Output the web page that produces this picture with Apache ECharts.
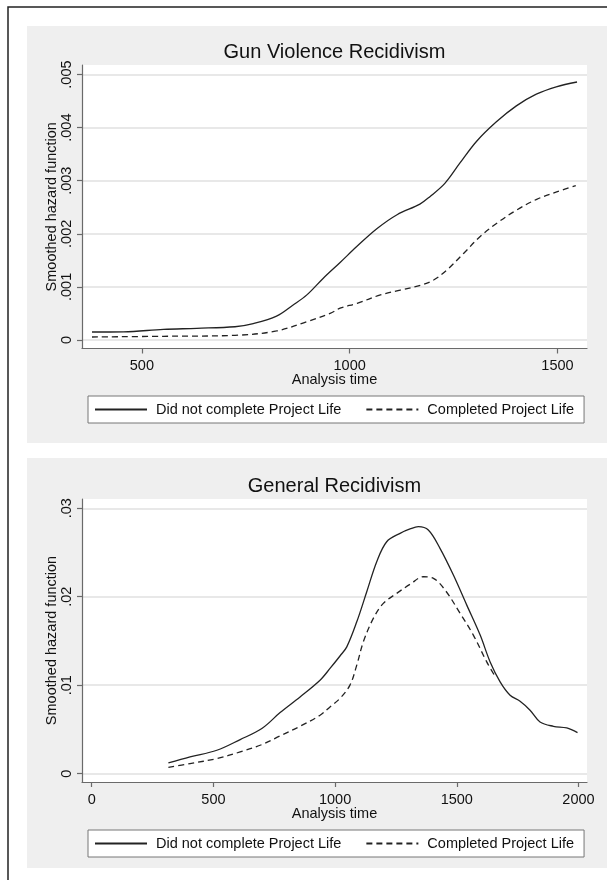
<!DOCTYPE html>
<html>
<head>
<meta charset="utf-8">
<script src="https://cdn.jsdelivr.net/npm/echarts@6/dist/echarts.min.js"></script>
<style>
html, body { margin: 0; padding: 0; background: #fff; }
#chart { width: 607px; height: 880px; }
</style>
</head>
<body>
<div id="chart"></div>
<script>
// Gun violence recidivism (top panel)
var gunTimeA = [380, 456, 552, 632, 724, 768, 824, 864, 897, 936, 977, 1017, 1066, 1114, 1169, 1193, 1229, 1265, 1305, 1353, 1401, 1449, 1497, 1547];
var gunHazA = [0.000151, 0.000155, 0.0002, 0.00022, 0.00025, 0.00031, 0.00045, 0.00066, 0.00085, 0.00116, 0.00146, 0.00176, 0.0021, 0.00236, 0.00256, 0.0027, 0.00295, 0.00333, 0.00374, 0.00411, 0.00441, 0.00463, 0.00477, 0.00486];
var gunTimeB = [380, 552, 724, 824, 897, 953, 977, 1018, 1074, 1122, 1170, 1202, 1234, 1274, 1314, 1354, 1402, 1450, 1498, 1544];
var gunHazB = [0.000057, 0.00007, 0.000088, 0.00017, 0.000345, 0.0005, 0.0006, 0.00069, 0.00085, 0.00094, 0.00103, 0.00113, 0.00132, 0.00163, 0.00195, 0.0022, 0.00245, 0.00265, 0.00279, 0.00291];

// General recidivism (bottom panel)
var genTimeA = [315, 404, 514, 610, 699, 774, 856, 938, 979, 1020, 1048, 1089, 1130, 1171, 1212, 1267, 1308, 1342, 1383, 1431, 1486, 1541, 1596, 1637, 1678, 1719, 1760, 1801, 1842, 1897, 1952, 1996];
var genHazA = [0.0012, 0.00188, 0.00264, 0.00385, 0.0051, 0.0069, 0.00867, 0.01056, 0.01189, 0.0133, 0.01433, 0.01716, 0.02056, 0.02396, 0.02622, 0.02717, 0.02766, 0.02792, 0.02754, 0.02547, 0.02245, 0.01905, 0.01566, 0.01263, 0.01037, 0.00886, 0.00818, 0.00717, 0.00584, 0.00535, 0.00516, 0.00464];
var genTimeB = [315, 404, 514, 610, 699, 774, 856, 938, 979, 1020, 1061, 1089, 1116, 1157, 1198, 1253, 1308, 1363, 1404, 1452, 1514, 1568, 1623, 1655];
var genHazB = [0.00071, 0.00113, 0.0017, 0.00245, 0.00328, 0.00426, 0.00535, 0.0066, 0.00754, 0.0085, 0.01, 0.01226, 0.0149, 0.01755, 0.01925, 0.02038, 0.0214, 0.02226, 0.02208, 0.02075, 0.01811, 0.01566, 0.01263, 0.0111];

var gunXTicks = [500, 1000, 1500];
var gunYTicks = [0, 0.001, 0.002, 0.003, 0.004, 0.005];
var genXTicks = [0, 500, 1000, 1500, 2000];
var genYTicks = [0, 0.01, 0.02, 0.03];

var titles = ['Gun Violence Recidivism', 'General Recidivism'];
var groups = ['Did not complete Project Life', 'Completed Project Life'];

function pairs(xs, ys) {
    return xs.map(function (x, i) { return [x, ys[i]]; });
}
function fmtY(v) {
    return v === 0 ? '0' : String(v).replace(/^0/, '');
}
function fmtX(v) {
    return String(v);
}

var FONT = '"Liberation Sans", Arial, sans-serif';
var axisCol = '#6a6a6a';
var txt = { fontFamily: FONT, fontSize: 14.5, color: '#111' };

function xAxis(gi, min, max, ticks) {
    return {
        type: 'value', gridIndex: gi, min: min, max: max,
        name: 'Analysis time', nameLocation: 'middle', nameGap: 24, nameMoveOverlap: false,
        nameTextStyle: txt,
        axisLine: { show: true, onZero: false, lineStyle: { color: axisCol, width: 1.2 } },
        axisTick: { show: true, length: 5, customValues: ticks, lineStyle: { color: axisCol, width: 1.2 } },
        axisLabel: { customValues: ticks, margin: 10, formatter: fmtX, fontFamily: FONT, fontSize: 14.5, color: '#111' },
        splitLine: { show: false }
    };
}
function yAxis(gi, min, max, ticks) {
    return {
        type: 'value', gridIndex: gi, min: min, max: max,
        name: 'Smoothed hazard function', nameLocation: 'middle', nameGap: 23, nameRotate: 90,
        nameMoveOverlap: false,
        nameTextStyle: txt,
        axisLine: { show: true, onZero: false, lineStyle: { color: axisCol, width: 1.2 } },
        axisTick: { show: true, length: 5, customValues: ticks, lineStyle: { color: axisCol, width: 1.2 } },
        axisLabel: { customValues: ticks, rotate: 90, margin: 8, formatter: fmtY, fontFamily: FONT, fontSize: 14.5, color: '#111' },
        splitLine: { show: true, lineStyle: { color: '#e8e8e8', width: 2 } }
    };
}
function line(name, gi, data, dashed) {
    return {
        name: name, type: 'line', xAxisIndex: gi, yAxisIndex: gi,
        data: data, symbol: 'none', showSymbol: false, smooth: 0.35,
        lineStyle: { color: '#222', width: 1.3, type: dashed ? [6, 4] : 'solid' },
        itemStyle: { color: '#222' },
        animation: false
    };
}
function legend(top) {
    return {
        left: 88, top: top, orient: 'horizontal',
        padding: [6, 10, 6, 6], itemWidth: 52, itemHeight: 14, itemGap: 24,
        backgroundColor: '#fff', borderColor: '#777', borderWidth: 1, borderRadius: 0,
        itemStyle: { opacity: 0 },
        textStyle: { fontFamily: FONT, fontSize: 14.5, color: '#111', padding: [0, 0, 0, 4] },
        data: groups.slice()
    };
}

var chart = echarts.init(document.getElementById('chart'), null, { renderer: 'canvas' });
chart.setOption({
    animation: false,
    graphic: [
        { type: 'rect', z: -100, shape: { x: 27, y: 26, width: 580, height: 417 }, style: { fill: '#efefef' } },
        { type: 'rect', z: -100, shape: { x: 27, y: 458, width: 580, height: 410 }, style: { fill: '#efefef' } },
        { type: 'polyline', z: -90, shape: { points: [[8, 880], [8, 7], [607, 7]] }, style: { stroke: '#222', lineWidth: 1.5, fill: null } }
    ],
    title: [
        { text: titles[0], left: 334.5, top: 42, textAlign: 'center', padding: 0,
          textStyle: { fontFamily: FONT, fontSize: 20, fontWeight: 'normal', color: '#111' } },
        { text: titles[1], left: 334.5, top: 476, textAlign: 'center', padding: 0,
          textStyle: { fontFamily: FONT, fontSize: 20, fontWeight: 'normal', color: '#111' } }
    ],
    legend: [legend(396), legend(830)],
    grid: [
        { left: 82, top: 65, width: 505, height: 283.5, show: true, backgroundColor: '#fff', borderWidth: 0, outerBoundsMode: 'none' },
        { left: 82, top: 499, width: 505, height: 283, show: true, backgroundColor: '#fff', borderWidth: 0, outerBoundsMode: 'none' }
    ],
    xAxis: [
        xAxis(0, 356, 1571, gunXTicks),
        xAxis(1, -40, 2035, genXTicks)
    ],
    yAxis: [
        yAxis(0, -0.00016, 0.00518, gunYTicks),
        yAxis(1, -0.00095, 0.03105, genYTicks)
    ],
    series: [
        line(groups[0], 0, pairs(gunTimeA, gunHazA), false),
        line(groups[1], 0, pairs(gunTimeB, gunHazB), true),
        line(groups[0], 1, pairs(genTimeA, genHazA), false),
        line(groups[1], 1, pairs(genTimeB, genHazB), true)
    ]
});
</script>
</body>
</html>
